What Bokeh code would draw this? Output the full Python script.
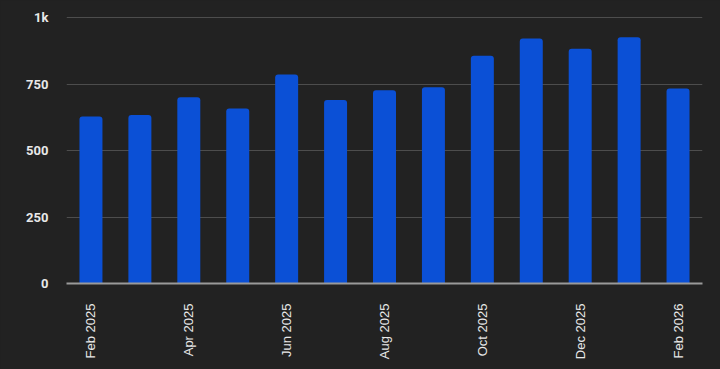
from bokeh.plotting import figure
from bokeh.models import FixedTicker, Range1d
from bokeh.embed import file_html
from bokeh.resources import INLINE

months = ["Feb 2025", "Mar 2025", "Apr 2025", "May 2025", "Jun 2025", "Jul 2025",
          "Aug 2025", "Sep 2025", "Oct 2025", "Nov 2025", "Dec 2025", "Jan 2026", "Feb 2026"]
values = [628, 634, 700, 658, 786, 690, 727, 738, 856, 921, 883, 926, 733]
y_ticks = [0, 250, 500, 750, 1000]
y_tick_labels = ["0", "250", "500", "750", "1k"]
label_every = 2

BG = "#222222"

idx = list(range(len(months)))

p = figure(width=720, height=369, output_backend="svg",
           toolbar_location=None, background_fill_color=BG, border_fill_color=BG,
           min_border_left=66, min_border_right=18, min_border_top=16, min_border_bottom=86,
           outline_line_color=None)
p.styles = {"background-color": BG}
p.x_range = Range1d(-0.5, len(months) - 0.5)
p.y_range = Range1d(0, 1004)

p.vbar(x=idx, top=values, width=0.47, color="#0b50d6", line_color=None,
       border_radius=(3, 3, 0, 0))

p.xgrid.visible = False
p.ygrid.grid_line_color = "#4d4d4d"
p.ygrid.grid_line_width = 1

p.yaxis.ticker = FixedTicker(ticks=y_ticks)
p.yaxis.major_label_overrides = {t: l for t, l in zip(y_ticks, y_tick_labels)}
p.yaxis.axis_line_color = None
p.yaxis.major_tick_line_color = None
p.yaxis.minor_tick_line_color = None
p.yaxis.major_tick_out = 0
p.yaxis.minor_tick_out = 0
p.yaxis.major_label_standoff = 18
p.yaxis.major_label_text_color = "#e8e8e8"
p.yaxis.major_label_text_font = "Roboto"
p.yaxis.major_label_text_font_size = "13px"
p.yaxis.major_label_text_font_style = "bold"

shown = idx[::label_every]
p.xaxis.ticker = FixedTicker(ticks=shown, minor_ticks=[])
p.xaxis.major_label_overrides = {i: months[i] for i in shown}
p.xaxis.axis_line_color = "#9a9a9a"
p.xaxis.axis_line_width = 2
p.xaxis.major_tick_line_color = None
p.xaxis.minor_tick_line_color = None
p.xaxis.major_tick_out = 0
p.xaxis.minor_tick_out = 0
p.xaxis.major_label_standoff = 20
p.xaxis.major_label_orientation = 3.14159265 / 2
p.xaxis.major_label_text_color = "#e8e8e8"
p.xaxis.major_label_text_font = "Liberation Sans"
p.xaxis.major_label_text_font_size = "13px"

open("out.html", "w").write(file_html(p, INLINE))
